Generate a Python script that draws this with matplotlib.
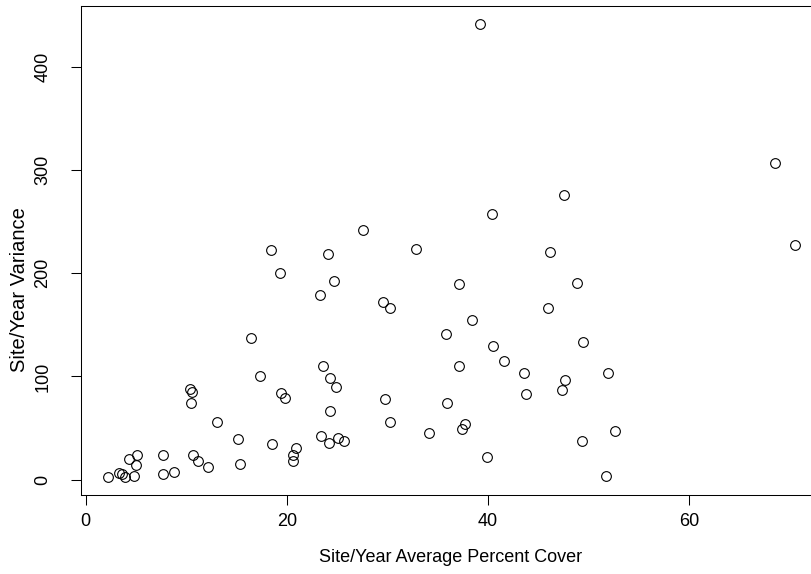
import matplotlib
matplotlib.use("Agg")
import matplotlib.pyplot as plt

# Site/year average percent cover and the variance of cover at each site/year
cover = [2.22, 3.28, 3.64, 3.91, 4.80, 4.28, 5.10, 4.97, 7.72, 7.72,
         8.78, 10.39, 10.59, 10.50, 10.64, 11.14, 12.13, 13.03, 15.18, 15.35,
         16.45, 17.33, 18.53, 18.43, 19.35, 19.42, 19.85, 20.92, 20.62, 20.59,
         23.33, 23.57, 23.43, 24.13, 24.66, 24.27, 24.93, 24.27, 24.23, 25.09,
         25.72, 27.55, 29.54, 30.29, 29.77, 30.23, 32.88, 34.17, 35.80, 35.93,
         37.15, 37.13, 37.69, 37.39, 38.39, 39.21, 39.94, 40.41, 40.54, 41.57,
         43.59, 43.79, 45.98, 46.15, 47.60, 47.67, 47.37, 48.86, 49.46, 49.33,
         51.92, 51.75, 52.61, 68.58, 70.51]
variance = [2.6, 6.5, 5.2, 2.9, 3.9, 20.0, 24.2, 14.5, 24.2, 5.8,
            7.7, 87.8, 84.9, 74.6, 23.9, 18.1, 12.6, 55.6, 39.7, 15.5,
            137.3, 100.4, 34.9, 222.8, 199.9, 83.7, 79.1, 31.0, 23.9, 17.8,
            178.6, 110.4, 42.0, 218.9, 192.7, 98.5, 90.1, 66.2, 35.5, 40.7,
            37.5, 242.1, 172.4, 166.0, 78.2, 55.9, 223.4, 44.9, 140.8, 74.6,
            189.2, 110.4, 54.2, 49.1, 155.0, 441.4, 22.0, 257.3, 129.8, 115.3,
            103.0, 82.7, 166.3, 220.2, 275.4, 96.3, 86.6, 190.5, 133.7, 37.5,
            103.6, 3.9, 47.5, 306.7, 227.0]

x_ticks = [0, 20, 40, 60]
y_ticks = [0, 100, 200, 300, 400]

plt.rcParams['font.family'] = ['Liberation Sans', 'DejaVu Sans']

W, H = 812, 574
fig = plt.figure(figsize=(W / 100, H / 100), dpi=100)

# plot region in pixels (right edge runs past the figure)
left, right, top, bottom = 80.6, 822.1, 5.8, 495.1
ax = fig.add_axes([left / W, 1 - bottom / H, (right - left) / W, (bottom - top) / H])

ax.plot(cover, variance, linestyle='none', marker='o', markersize=7,
        markerfacecolor='none', markeredgecolor='black', markeredgewidth=0.8)

# 4% padding around the data range on each axis
def padded(vals):
    lo, hi = min(vals), max(vals)
    r = hi - lo
    return lo - 0.04 * r, hi + 0.04 * r

ax.set_xlim(*padded(cover))
ax.set_ylim(*padded(variance))

ax.set_xticks(x_ticks)
ax.set_yticks(y_ticks)
ax.tick_params(direction='out', length=7, width=0.75, labelsize=13, color='black')
ax.tick_params(axis='x', pad=6)
ax.tick_params(axis='y', pad=14)
for lab in ax.get_yticklabels():
    lab.set_rotation(90)
    lab.set_va('center')

for s in ax.spines.values():
    s.set_linewidth(0.75)
    s.set_color('black')

ax.set_xlabel('Site/Year Average Percent Cover', fontsize=13)
ax.set_ylabel('Site/Year Variance', fontsize=14.5)
axw, axh = right - left, bottom - top
ax.xaxis.set_label_coords((451 - left) / axw, (bottom - 557) / axh)
ax.xaxis.label.set_va('center')
ax.yaxis.set_label_coords((20 - left) / axw, (bottom - 290) / axh)
ax.yaxis.label.set_va('center')

fig.savefig('out.png', dpi=100)
